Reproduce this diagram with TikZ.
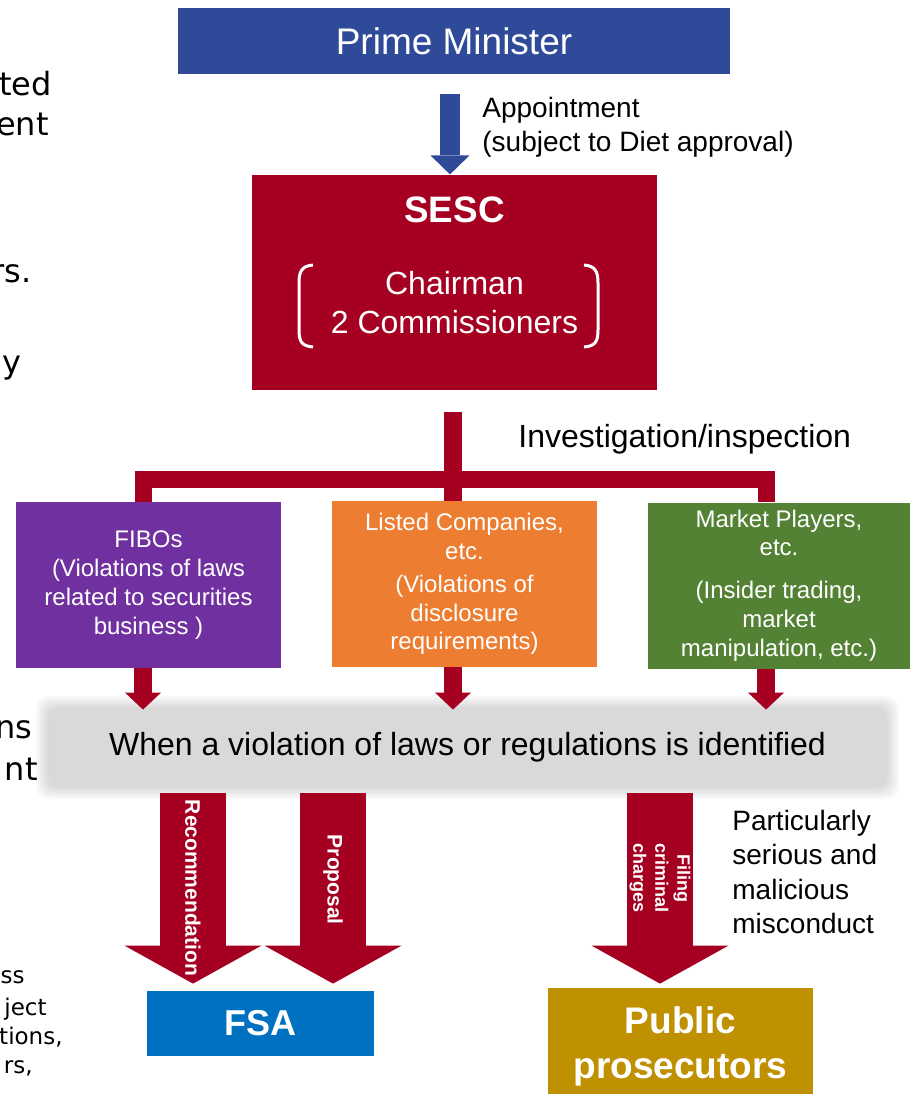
\documentclass[tikz,border=0pt]{standalone}
\usepackage{fontspec}
\setmainfont{Liberation Sans}
\newfontfamily\slidefont{DejaVu Sans}
\usetikzlibrary{positioning,arrows.meta}
\definecolor{PMblue}{RGB}{46,74,152}
\definecolor{SESCred}{RGB}{165,0,33}
\definecolor{FIBOpurple}{RGB}{112,48,160}
\definecolor{LISTorange}{RGB}{237,125,49}
\definecolor{MKTgreen}{RGB}{84,130,53}
\definecolor{FSAblue}{RGB}{0,112,192}
\definecolor{PROSgold}{RGB}{191,144,0}
\definecolor{BANDgray}{RGB}{217,217,217}

\begin{document}
\begin{tikzpicture}[x=0.5pt, y=-0.5pt,
            box/.style={rectangle, inner sep=0pt, text=white, align=center, font=\fontsize{12}{14.4}\selectfont},
            link/.style={SESCred, line width=8.5pt},
            pmarrow/.style={PMblue, line width=10pt, -{Triangle[width=19.5pt, length=9.5pt, line width=0pt]}},
            droparrow/.style={SESCred, line width=9pt, -{Triangle[width=18pt, length=8.5pt, line width=0pt]}},
            bigarrow/.style={SESCred, line width=33pt, -{Triangle[width=68.5pt, length=19pt, line width=0pt]}},
            arrowlabel/.style={text=white, rotate=-90, align=center, inner sep=0pt},
            note/.style={anchor=west, align=left, inner sep=0pt, font=\fontsize{14}{17.2}\selectfont},
            cutoff/.style={anchor=base east, inner sep=0pt, font=\slidefont\fontsize{16}{19}\selectfont},
            cutoffsmall/.style={cutoff, font=\slidefont\fontsize{11.5}{14}\selectfont}
        ]
            \useasboundingbox (0,0) rectangle (910,1094);

            % left edge of the slide
            \node (fragA) [cutoff] at (52,95) {ted};
            \node (fragB) [cutoff] at (49,135) {ent};
            \node (fragC) [cutoff] at (32,282) {rs.};
            \node (fragD) [cutoff] at (22,373) {y};
            \node (fragE) [cutoff] at (33,738) {ns};
            \node (fragF) [cutoff] at (38,780) {nt};
            \node (fragG) [cutoffsmall] at (25,983) {ss};
            \node (fragH) [cutoffsmall] at (47,1015) {ject};
            \node (fragI) [cutoffsmall] at (63,1044) {tions,};
            \node (fragJ) [cutoffsmall] at (33,1073) {rs,};

            % top
            \node (prime) [box, fill=PMblue, minimum width=276pt, minimum height=33pt, font=\fontsize{18.5}{22}\selectfont] at (454,41) {Prime Minister};
            \node (sesc) [box, fill=SESCred, minimum width=202.5pt, minimum height=107.5pt, below=50pt of prime] {};
            \node (sescTitle) [box, font=\bfseries\fontsize{18.4}{22}\selectfont] at (454.5,210) {SESC};
            \node (members) [box, font=\fontsize{16}{19.5}\selectfont] at (454.5,303) {Chairman\\2 Commissioners};
            \draw [white, line width=1.5pt] (313,265) .. controls (302,266) and (299,271) .. (299,283) -- (299,330) .. controls (299,342) and (302,346) .. (313,347);
            \draw [white, line width=1.5pt] (584,265) .. controls (595,266) and (598,271) .. (598,283) -- (598,330) .. controls (598,342) and (595,346) .. (584,347);

            \coordinate (pmX) at (450,0);
            \draw [pmarrow, shorten <=10pt] (pmX |- prime.south) -- (pmX |- sesc.north);
            \node (appoint) [note] at (482,127.5) {Appointment\\(subject to Diet approval)};

            % investigated parties
            \node (fibo) [box, fill=FIBOpurple, minimum width=132.5pt, minimum height=83pt] at (148.5,585) {FIBOs\\(Violations of laws\\related to securities\\business )};
            \node (listed) [box, fill=LISTorange, minimum width=132.5pt, minimum height=83pt] at (464.5,584) {Listed Companies,\\etc.\\[2pt](Violations of\\disclosure\\requirements)};
            \node (market) [box, fill=MKTgreen, minimum width=131pt, minimum height=83pt] at (779,585.5) {Market Players,\\etc.\\[7pt](Insider trading,\\market\\manipulation, etc.)};

            \coordinate (trunkTop) at (453,412);
            \coordinate (hubL) at (143,479);
            \coordinate (hubR) at (766,479);
            \draw [link, line width=9pt] (trunkTop) -- (trunkTop |- listed.north);
            \draw [link] (hubL |- fibo.north) -- (hubL) -- (hubR) -- (hubR |- market.north);
            \node (invest) [note, font=\fontsize{16}{19}\selectfont] at (518,439) {Investigation/inspection};

            % band with soft shadow
            \foreach \s in {2,4,...,14}
                \fill [black, opacity=0.025, rounded corners=6pt] (50-\s,710-\s) rectangle (885+\s,785+\s);
            \node (band) [rectangle, fill=BANDgray, inner sep=0pt, minimum width=417.5pt, minimum height=37.5pt, font=\fontsize{16}{19}\selectfont] at (467.5,747.5) {When a violation of laws or regulations is identified};

            \draw [droparrow] (hubL |- fibo.south) -- (hubL |- band.north);
            \draw [droparrow] (trunkTop |- listed.south) -- (trunkTop |- band.north);
            \draw [droparrow] (hubR |- market.south) -- (hubR |- band.north);

            % outcomes
            \node (fsa) [box, fill=FSAblue, minimum width=113.5pt, minimum height=32.5pt, font=\bfseries\fontsize{18}{22}\selectfont] at (260.5,1023.5) {FSA};
            \node (pros) [box, fill=PROSgold, minimum width=132.5pt, minimum height=58pt, font=\bfseries\fontsize{18.5}{22.5}\selectfont] at (680.5,1046) {Public\\prosecutors};

            \coordinate (recX) at (193,0);
            \coordinate (propX) at (333,0);
            \coordinate (fileX) at (660,0);
            \draw [bigarrow, shorten <=4pt, shorten >=3.5pt] (recX |- band.south) -- (recX |- fsa.north)
                node [arrowlabel, midway, font=\bfseries\fontsize{10.5}{12}\selectfont] {Recommendation};
            \draw [bigarrow, shorten <=4pt, shorten >=3.5pt] (propX |- band.south) -- (propX |- fsa.north)
                node [arrowlabel, pos=0.46, font=\bfseries\fontsize{10.5}{12}\selectfont] {Proposal};
            \draw [bigarrow, shorten <=4pt, shorten >=2pt] (fileX |- band.south) -- (fileX |- pros.north)
                node [arrowlabel, pos=0.46, font=\bfseries\fontsize{9}{11}\selectfont] {Filing\\criminal\\charges};
            \node (serious) [note] at (732,872) {Particularly\\serious and\\malicious\\misconduct};
        \end{tikzpicture}
\end{document}
